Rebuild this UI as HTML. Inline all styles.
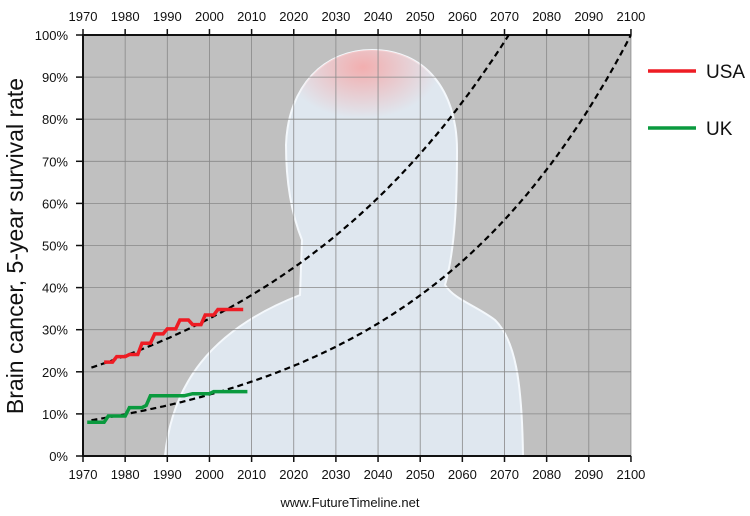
<!DOCTYPE html>
<html><head><meta charset="utf-8"><style>
html,body{margin:0;padding:0;background:#fff;}
svg{display:block;font-family:"Liberation Sans",sans-serif;}
</style></head><body>
<svg id="s" width="750" height="516" viewBox="0 0 750 516">
<defs>
<radialGradient id="rg" cx="0.45" cy="0.15" r="0.45">
<stop offset="0" stop-color="#f4a8a8" stop-opacity="0.9"/>
<stop offset="1" stop-color="#f4a8a8" stop-opacity="0"/>
</radialGradient>
</defs>
<rect x="83" y="35" width="548" height="421" fill="#c0c0c0"/>
<path d="M165,456 C172,385 210,330 300,295 L302,240 C292,215 286,185 286,145 C288,85 325,50 372,50 C425,50 457,90 457,150 C457,200 455,250 445,285 C455,300 475,305 495,320 C515,340 522,380 523,456 Z" fill="#e2ecf5" fill-opacity="0.88" stroke="#f4f8fc" stroke-width="2"/>
<path d="M286,145 C288,85 325,50 372,50 C425,50 457,90 457,150 C420,170 330,170 286,145 Z" fill="url(#rg)"/>
<g id="grid" stroke="#888" stroke-width="0.8"></g>
<g id="ax" stroke="#111" stroke-width="2"></g>
<g id="lab" font-size="13" fill="#111"></g>
<path id="d1" fill="none" stroke="#000" stroke-width="2.2" stroke-dasharray="6,4"/>
<path id="d2" fill="none" stroke="#000" stroke-width="2.2" stroke-dasharray="6,4"/>
<polyline id="usa" fill="none" stroke="#ee1c24" stroke-width="3.5"/>
<polyline id="uk" fill="none" stroke="#0a9a3e" stroke-width="3.5"/>
<line x1="648" y1="71" x2="696" y2="71" stroke="#ee1c24" stroke-width="3.5"/>
<text x="706" y="78" font-size="19" fill="#111">USA</text>
<line x1="648" y1="128" x2="696" y2="128" stroke="#0a9a3e" stroke-width="3.5"/>
<text x="706" y="135" font-size="19" fill="#111">UK</text>
<text transform="translate(23,246) rotate(-90)" text-anchor="middle" font-size="23" fill="#111">Brain cancer, 5-year survival rate</text>
<text x="350" y="507" text-anchor="middle" font-size="13" fill="#111">www.FutureTimeline.net</text>
</svg>
<script>
var X=function(y){return 83+(y-1970)*4.215},Y=function(p){return 456-4.21*p};
var ns="http://www.w3.org/2000/svg";
function el(p,t,a,txt){var e=document.createElementNS(ns,t);for(var k in a)e.setAttribute(k,a[k]);if(txt)e.textContent=txt;document.getElementById(p).appendChild(e);}
for(var yr=1980;yr<=2100;yr+=10)el("grid","line",{x1:X(yr),y1:35,x2:X(yr),y2:456});
for(var p=10;p<=90;p+=10)el("grid","line",{x1:83,y1:Y(p),x2:631,y2:Y(p)});
el("ax","line",{x1:83,y1:35,x2:631,y2:35});
el("ax","line",{x1:83,y1:456,x2:631,y2:456});
el("ax","line",{x1:83,y1:34,x2:83,y2:457});
for(var yr=1970;yr<=2100;yr+=10){var x=X(yr);
el("ax","line",{x1:x,y1:29,x2:x,y2:35,"stroke-width":1.5});
el("ax","line",{x1:x,y1:456,x2:x,y2:462,"stroke-width":1.5});
el("lab","text",{x:x,y:21,"text-anchor":"middle"},""+yr);
el("lab","text",{x:x,y:479,"text-anchor":"middle"},""+yr);}
for(var p=0;p<=100;p+=10){el("ax","line",{x1:76,y1:Y(p),x2:83,y2:Y(p),"stroke-width":1.5});
el("lab","text",{x:68,y:Y(p)+5,"text-anchor":"end"},p+"%");}
function curve(id,a,k,end){var d="";for(var yr=1972;yr<=end;yr+=0.5){var v=a*Math.exp(k*(yr-1972));if(v>100.5)break;d+=(d?"L":"M")+X(yr).toFixed(1)+","+Y(v).toFixed(1);}document.getElementById(id).setAttribute("d",d);}
curve("d1",21,Math.log(100/21)/99,2075);
curve("d2",8.5,Math.log(100/8.5)/128,2100);
function pl(id,pts){document.getElementById(id).setAttribute("points",pts.map(function(q){return X(q[0]).toFixed(1)+","+Y(q[1]).toFixed(1)}).join(" "));}
pl("usa",[[1975,22.3],[1977,22.3],[1978,23.6],[1980,23.6],[1981,24.1],[1983,24.1],[1984,26.8],[1986,26.8],[1987,29],[1989,29],[1990,30.2],[1992,30.2],[1993,32.3],[1995,32.3],[1996,31.2],[1998,31.2],[1999,33.5],[2001,33.5],[2002,34.8],[2008,34.8]]);
pl("uk",[[1971,8],[1975,8],[1976,9.5],[1980,9.5],[1981,11.5],[1984,11.5],[1985,12],[1986,14.3],[1994,14.3],[1996,14.8],[2000,14.8],[2001,15.3],[2009,15.3]]);
</script>
</body></html>
